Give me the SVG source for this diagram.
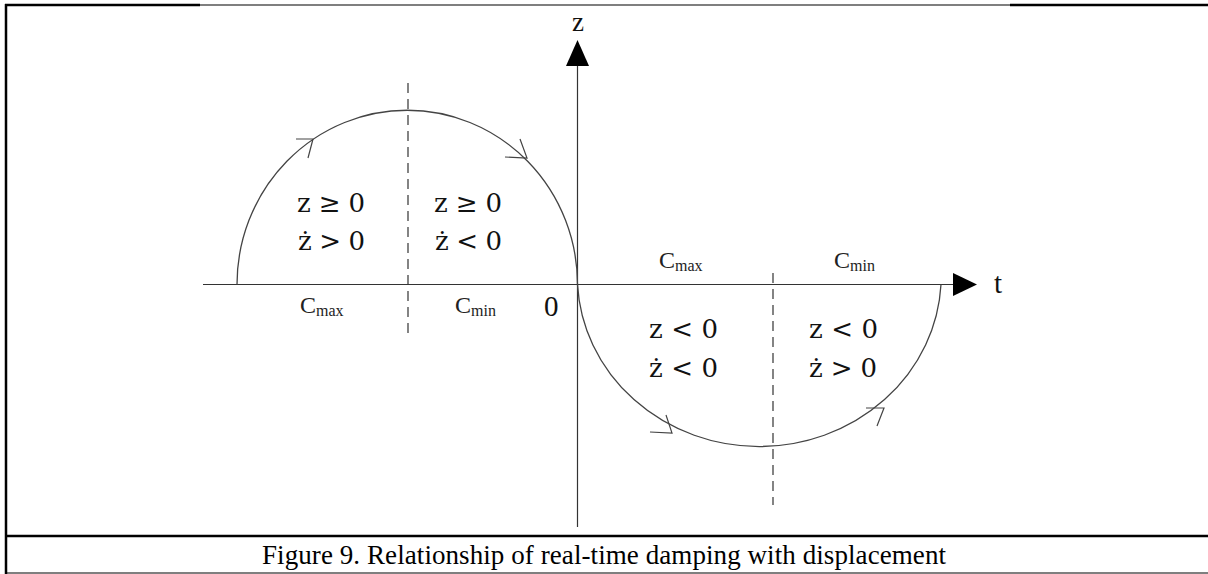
<svg xmlns="http://www.w3.org/2000/svg" width="1208" height="574" viewBox="0 0 1208 574">
  <style>
    .frame { stroke: #000; fill: none; }
    .axis { stroke: #333; stroke-width: 1.2; fill: none; }
    .curve { stroke: #444; stroke-width: 1.3; fill: none; }
    .dash { stroke: #333; stroke-width: 1.2; stroke-dasharray: 10 6; fill: none; }
    .chev { stroke: #444; stroke-width: 1.2; fill: none; }
    .cond { font-family: "DejaVu Serif", "Liberation Serif", serif; font-size: 26px; fill: #111; }
    .c { font-family: "Liberation Serif", serif; font-size: 24px; fill: #222; }
    .sub { font-family: "Liberation Serif", serif; font-size: 16px; fill: #222; }
    .lbl { font-family: "Liberation Serif", serif; fill: #111; }
    .cap { font-family: "Liberation Serif", "Times New Roman", serif; font-size: 27px; fill: #000; }
  </style>

  <g id="frame">
    <line class="frame" x1="5" y1="5" x2="200" y2="5" stroke-width="2.5"/>
    <line class="frame" x1="200" y1="5" x2="1010" y2="5" stroke-width="1.2"/>
    <line class="frame" x1="1010" y1="5" x2="1208" y2="5" stroke-width="2.5"/>
    <line class="frame" x1="6" y1="4" x2="6" y2="574" stroke-width="2.5"/>
    <line class="frame" x1="5" y1="536" x2="1208" y2="536" stroke-width="2.5"/>
    <line class="frame" x1="5" y1="573" x2="1208" y2="573" stroke-width="1.2"/>
  </g>

  <g id="connectors">
    <line class="axis" x1="577.5" y1="64" x2="577.5" y2="527"/>
    <polygon points="577.5,40 566,66 589,66" fill="#000"/>
    <line class="axis" x1="203" y1="284.5" x2="955" y2="284.5"/>
    <polygon points="977,284.5 953,273 953,296" fill="#000"/>
    <line class="dash" x1="408" y1="83" x2="408" y2="335"/>
    <line class="dash" x1="773" y1="273" x2="773" y2="505"/>
    <path class="curve" d="M237,284.5 A170,174 0 0 1 577.5,284.5"/>
    <path class="curve" d="M577.5,284.5 A182,171 0 0 0 941,284.5"/>
    <polyline class="chev" points="296,139 313,139 308,158"/>
    <polyline class="chev" points="520,139 527,158 505,157"/>
    <polyline class="chev" points="666,415 672,433 650,432"/>
    <polyline class="chev" points="866,408 884,408 877,426"/>
  </g>

  <g id="axis-labels">
    <text class="lbl" x="578" y="31" font-size="27" text-anchor="middle">z</text>
    <text class="lbl" x="994" y="293" font-size="29">t</text>
    <text class="lbl" x="544" y="316" font-size="29">0</text>
  </g>

  <g id="region-ul">
    <text class="cond" x="297" y="212" textLength="68">z ≥ 0</text>
    <text class="cond" x="298" y="250" textLength="67">ż &gt; 0</text>
  </g>
  <g id="region-ur">
    <text class="cond" x="434" y="212" textLength="68">z ≥ 0</text>
    <text class="cond" x="435" y="250" textLength="67">ż &lt; 0</text>
  </g>
  <g id="region-ll">
    <text class="cond" x="649" y="338" textLength="69">z &lt; 0</text>
    <text class="cond" x="649" y="377" textLength="69">ż &lt; 0</text>
  </g>
  <g id="region-lr">
    <text class="cond" x="809" y="338" textLength="69">z &lt; 0</text>
    <text class="cond" x="809" y="377" textLength="68">ż &gt; 0</text>
  </g>

  <g id="damping-labels">
    <text x="300" y="313"><tspan class="c">C</tspan><tspan class="sub" dy="3">max</tspan></text>
    <text x="455" y="313"><tspan class="c">C</tspan><tspan class="sub" dy="3">min</tspan></text>
    <text x="659" y="268"><tspan class="c">C</tspan><tspan class="sub" dy="3">max</tspan></text>
    <text x="834" y="268"><tspan class="c">C</tspan><tspan class="sub" dy="3">min</tspan></text>
  </g>

  <g id="caption">
    <text class="cap" x="262" y="564" textLength="684">Figure 9. Relationship of real-time damping with displacement</text>
  </g>
</svg>
